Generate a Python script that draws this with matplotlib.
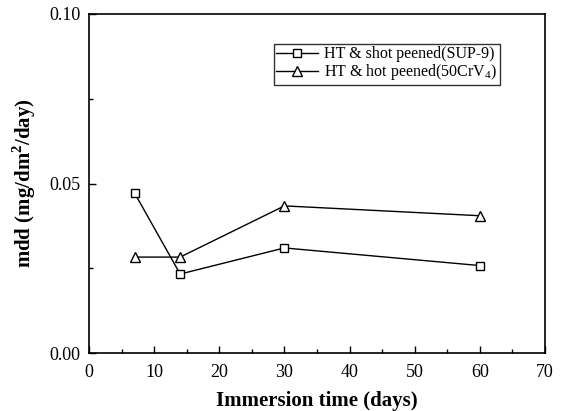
import matplotlib
matplotlib.use("Agg")
import matplotlib.pyplot as plt
from matplotlib.ticker import MultipleLocator

plt.rcParams['font.family'] = ['Liberation Serif', 'DejaVu Serif']
plt.rcParams['mathtext.fontset'] = 'custom'
plt.rcParams['mathtext.rm'] = 'Liberation Serif'
plt.rcParams['mathtext.bf'] = 'Liberation Serif:bold'

days = [7, 14, 30, 60]
shot_peened = [0.0472, 0.0233, 0.0310, 0.0258]
hot_peened = [0.0283, 0.0283, 0.0434, 0.0405]
labels = ["HT & shot peened(SUP-9)", r"HT & hot peened(50CrV$_4$)"]

fig = plt.figure(figsize=(5.63, 4.11), dpi=100)
ax = fig.add_axes([0.158, 0.141, 0.810, 0.825])

ax.plot(days, shot_peened, '-s', color='black', lw=1.0, ms=5.5, mfc='white', mec='black', mew=1.0, label=labels[0])
ax.plot(days, hot_peened, '-^', color='black', lw=1.0, ms=6.5, mfc='white', mec='black', mew=1.0, label=labels[1])

ax.set_xlim(0, 70)
ax.set_ylim(0, 0.10)
ax.xaxis.set_major_locator(MultipleLocator(10))
ax.xaxis.set_minor_locator(MultipleLocator(5))
ax.yaxis.set_major_locator(MultipleLocator(0.05))
ax.yaxis.set_minor_locator(MultipleLocator(0.025))
ax.yaxis.set_major_formatter(matplotlib.ticker.FormatStrFormatter('%.2f'))
ax.tick_params(which='both', direction='in', top=False, right=False, labelsize=13)
ax.tick_params(axis='x', which='major', pad=8)
ax.tick_params(axis='y', which='major', pad=6)
ax.tick_params(which='major', length=5, width=1.0)
ax.tick_params(which='minor', length=3, width=1.0)
for s in ax.spines.values():
    s.set_linewidth(1.2)

ax.set_xlabel("Immersion time (days)", fontsize=15, fontweight='bold', labelpad=7)
ax.set_ylabel(r"mdd (mg/dm$^\mathbf{2}$/day)", fontsize=15, fontweight='bold', labelpad=8)

leg = ax.legend(loc='upper left', bbox_to_anchor=(0.406, 0.912), fontsize=11.5, frameon=True,
                fancybox=False, edgecolor='black', handlelength=2.6, handletextpad=0.4,
                borderpad=0.15, labelspacing=0.0, borderaxespad=0)
leg.get_frame().set_linewidth(1.0)

fig.savefig("out.png", dpi=100)
